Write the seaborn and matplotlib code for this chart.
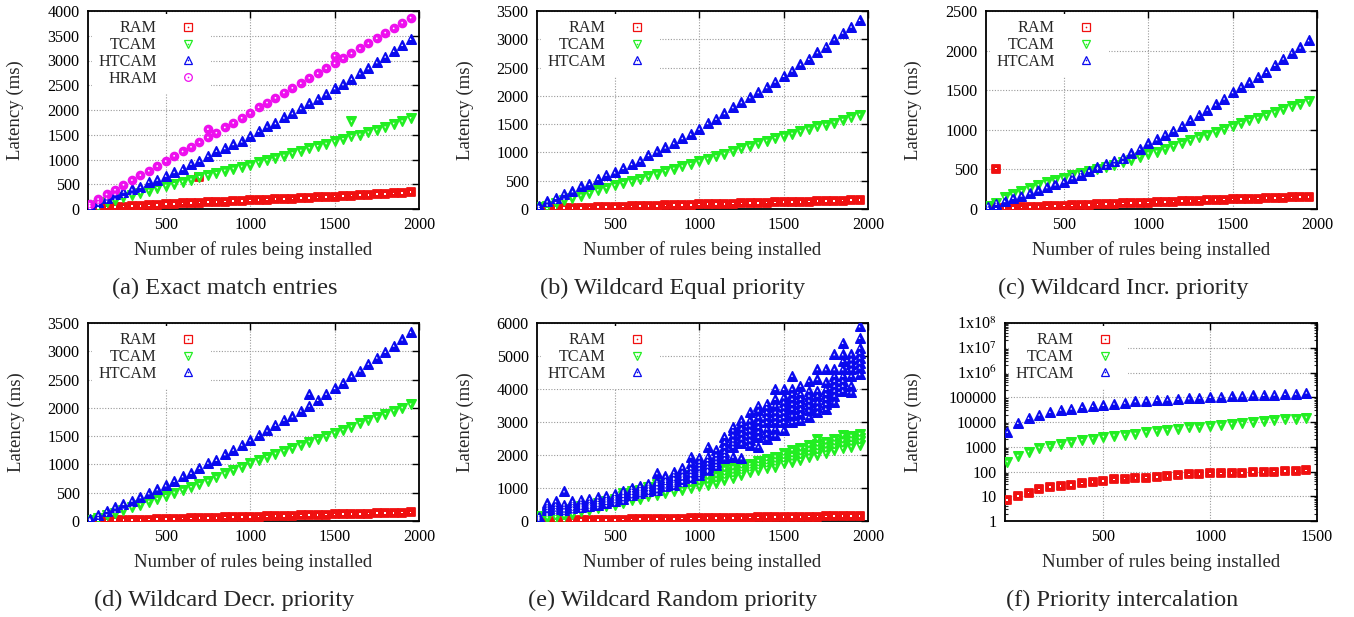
import numpy as np
import matplotlib
matplotlib.use("Agg")
import matplotlib.pyplot as plt
import seaborn as sns
from matplotlib.lines import Line2D
from matplotlib.legend_handler import HandlerTuple
from matplotlib.ticker import FixedLocator, NullLocator, FixedFormatter, LogLocator, NullFormatter

# ---------------- data ----------------
X = [50, 100, 150, 200, 250, 300, 350, 400, 450, 500, 550, 600, 650, 700, 750,
     800, 850, 900, 950, 1000, 1050, 1100, 1150, 1200, 1250, 1300, 1350, 1400,
     1450, 1500, 1550, 1600, 1650, 1700, 1750, 1800, 1850, 1900, 1950]
XF = [50, 100, 150, 200, 250, 300, 350, 400, 450, 500, 550, 600, 650, 700, 750,
      800, 850, 900, 950, 1000, 1050, 1100, 1150, 1200, 1250, 1300, 1350, 1400, 1450]

# (a) Exact match entries
RAM_A = [10, 20, 30, 40, 48, 55, 65, 72, 82, 95, 105, 112, 120, 128, 135, 143, 150, 158, 165, 175,
         182, 190, 198, 205, 212, 220, 228, 235, 243, 252, 260, 270, 280, 288, 297, 306, 315, 325, 340]
TCAM_A = [40, 87, 148, 188, 240, 290, 323, 370, 423, 470, 504, 551, 592, 645, 686, 726, 773, 813, 854, 894,
          941, 988, 1035, 1076, 1123, 1176, 1230, 1271, 1318, 1365, 1412, 1466, 1500, 1546, 1600, 1647, 1721, 1768, 1835]
HTCAM_A = [80, 148, 215, 300, 350, 397, 444, 550, 592, 672, 746, 807, 914, 975, 1075, 1176, 1230, 1311, 1365, 1479,
           1580, 1667, 1734, 1849, 1936, 2037, 2138, 2218, 2319, 2440, 2521, 2629, 2743, 2844, 2965, 3079, 3193, 3314, 3435]
HRAM_A = [108, 200, 296, 390, 490, 585, 685, 773, 867, 968, 1075, 1163, 1257, 1350, 1445, 1540, 1647, 1741, 1842, 1943,
          2057, 2151, 2245, 2353, 2447, 2541, 2649, 2743, 2844, 2944, 3045, 3146, 3247, 3348, 3449, 3563, 3650, 3765, 3866]
RAM_A_OUT_X, RAM_A_OUT_Y = [700], [640]
TCAM_A_OUT_X, TCAM_A_OUT_Y = [1600], [1768]
HRAM_A_OUT_X, HRAM_A_OUT_Y = [750, 1500], [1613, 3099]

# (b) Wildcard Equal priority
RAM_B = [5, 8, 12, 15, 18, 22, 26, 30, 35, 38, 42, 46, 50, 55, 58, 62, 66, 70, 74, 80,
         84, 88, 92, 96, 100, 104, 108, 112, 116, 120, 124, 128, 132, 136, 140, 145, 150, 155, 162]
TCAM_B = [30, 60, 106, 165, 194, 235, 282, 329, 371, 418, 459, 488, 529, 576, 624, 671, 712, 753, 794, 841,
          888, 929, 976, 1029, 1071, 1118, 1159, 1206, 1253, 1294, 1329, 1371, 1418, 1459, 1488, 1529, 1576, 1618, 1665]
HTCAM_B = [50, 135, 194, 270, 312, 400, 441, 530, 606, 647, 724, 794, 853, 953, 1018, 1088, 1165, 1253, 1324, 1418,
           1518, 1594, 1694, 1800, 1888, 1976, 2065, 2153, 2253, 2353, 2447, 2559, 2653, 2771, 2871, 3000, 3118, 3224, 3341]

# (c) Wildcard Incr. priority
RAM_C = [5, 8, 12, 16, 20, 24, 28, 33, 38, 42, 46, 50, 54, 58, 62, 66, 70, 74, 78, 82,
         86, 90, 94, 98, 102, 106, 110, 114, 118, 120, 124, 128, 132, 136, 140, 143, 146, 150, 152]
TCAM_C = [40, 80, 150, 190, 225, 262, 300, 335, 365, 395, 425, 455, 480, 500, 525, 560, 590, 620, 660, 700,
          725, 760, 795, 830, 870, 905, 940, 975, 1010, 1045, 1085, 1120, 1150, 1185, 1220, 1260, 1295, 1325, 1365]
HTCAM_C = [30, 65, 100, 140, 170, 200, 235, 275, 310, 345, 390, 435, 480, 525, 570, 610, 650, 705, 760, 830,
           880, 940, 990, 1050, 1125, 1190, 1255, 1320, 1395, 1475, 1545, 1600, 1665, 1730, 1820, 1900, 1975, 2040, 2130]
RAM_C_OUT_X, RAM_C_OUT_Y = [100], [510]

# (d) Wildcard Decr. priority
RAM_D = [5, 8, 10, 12, 15, 18, 22, 26, 30, 34, 38, 42, 46, 50, 55, 58, 62, 66, 70, 74,
         78, 82, 86, 90, 95, 100, 104, 108, 112, 116, 120, 124, 128, 132, 136, 140, 144, 148, 152]
TCAM_D = [20, 50, 100, 150, 200, 240, 290, 340, 390, 440, 500, 550, 600, 650, 710, 770, 840, 900, 960, 1030,
          1080, 1130, 1190, 1240, 1290, 1350, 1400, 1450, 1500, 1560, 1610, 1670, 1730, 1780, 1840, 1890, 1950, 2000, 2060]
HTCAM_D = [40, 110, 180, 240, 300, 360, 420, 490, 560, 630, 710, 790, 850, 940, 1030, 1080, 1180, 1260, 1350, 1430,
           1520, 1600, 1700, 1790, 1850, 1950, 2040, 2140, 2250, 2350, 2440, 2560, 2660, 2780, 2890, 2990, 3100, 3210, 3340]
HTCAM_D_OUT_X, HTCAM_D_OUT_Y = [1350], [2250]

# (e) Wildcard Random priority (several runs per x)
RAM_E = [-40, -30, 12, 16, 20, 24, 28, 32, 36, 40, 44, 48, 52, 56, 60, 64, 68, 72, 76, 80,
         84, 88, 92, 96, 100, 104, 108, 112, 116, 120, 124, 128, 132, 136, 140, 144, 148, 152, 156]
TCAM_E = [
    [50, 100, 150], [100, 160, 200], [120, 190, 250], [150, 220, 300], [200, 280, 350],
    [300, 370, 440], [340, 400, 460], [400, 470, 540], [450, 530, 620], [500, 590, 680],
    [560, 650, 750, 850], [650, 740, 830, 900], [680, 770, 860, 950], [750, 840, 940, 1040],
    [800, 900, 1000, 1120], [850, 950, 1060, 1180], [900, 1010, 1120, 1250], [950, 1060, 1180, 1320],
    [1000, 1120, 1240, 1380], [1050, 1170, 1290, 1420], [1100, 1220, 1340, 1480], [1150, 1260, 1380, 1600],
    [1250, 1350, 1450, 1580], [1300, 1400, 1500, 1620], [1400, 1480, 1560, 1660], [1480, 1560, 1640, 1720],
    [1550, 1630, 1720, 1820], [1600, 1690, 1780, 1880], [1650, 1740, 1840, 1950], [1750, 1850, 1950, 2050],
    [1800, 1900, 2000, 2150], [1850, 1960, 2070, 2200], [1950, 2060, 2170, 2300], [2000, 2110, 2220, 2330, 2480],
    [2050, 2160, 2280, 2400], [2150, 2260, 2370, 2480], [2200, 2320, 2440, 2600], [2250, 2360, 2470, 2580],
    [2300, 2410, 2520, 2640]]
HTCAM_E = [
    [40, 80, 130], [330, 400, 470, 540], [350, 420, 500, 600], [340, 420, 500, 900], [400, 470, 540, 600],
    [430, 500, 570, 650], [460, 530, 600, 680], [500, 570, 640, 720], [550, 620, 690, 760], [600, 680, 750, 820],
    [680, 760, 840, 920], [780, 860, 940, 1010], [840, 920, 990, 1060], [900, 980, 1050, 1130],
    [950, 1040, 1120, 1200, 1450], [1050, 1150, 1250, 1350], [1100, 1200, 1300, 1400, 1480],
    [1200, 1300, 1400, 1500, 1620], [1300, 1400, 1500, 1600, 1750, 1950], [1400, 1500, 1600, 1700, 1800, 1920],
    [1550, 1650, 1750, 1850, 1950, 2250], [1700, 1800, 1900, 2000, 2150], [1900, 2000, 2100, 2250, 2400, 2550],
    [1950, 2250, 2350, 2450, 2600, 2750, 2850], [1900, 2350, 2500, 2650, 2800, 2950, 3050],
    [2300, 2450, 2600, 2750, 2900, 3050, 3300], [2250, 2550, 2700, 2850, 3000, 3150, 3350, 3500],
    [2500, 2650, 2800, 3000, 3150, 3300, 3450, 3550], [2600, 2800, 3000, 3150, 3300, 3500, 3700, 4000],
    [2750, 3000, 3150, 3300, 3450, 3600, 3750, 4000], [3000, 3200, 3400, 3550, 3700, 3850, 4000, 4400],
    [3050, 3250, 3400, 3550, 3700, 3850, 4100], [3150, 3350, 3500, 3650, 3800, 3950, 4250],
    [3300, 3450, 3600, 3800, 3950, 4300, 4600], [3400, 3550, 3700, 3850, 4000, 4200, 4600],
    [3600, 3800, 3950, 4100, 4250, 4400, 4600, 5050], [3950, 4100, 4250, 4400, 4600, 4850, 5050, 5400],
    [3900, 4100, 4400, 4600, 4750, 4900, 5050], [4450, 4650, 4800, 4950, 5100, 5250, 5550, 5900]]

# (f) Priority intercalation (log scale)
RAM_F = [7, 10, 14, 19, 23, 26, 29, 33, 37, 41, 48, 52, 56, 57, 61, 67, 69, 76, 78, 84,
         84, 89, 89, 94, 94, 100, 107, 107, 110]
TCAM_F = [247, 430, 630, 910, 1050, 1270, 1580, 1850, 2150, 2510, 2840, 3030, 3330, 3870, 4380,
          4800, 5450, 6000, 6350, 6950, 7640, 8380, 8900, 9800, 10700, 11800, 12900, 13800, 15100]
HTCAM_F = [4000, 9200, 14700, 20000, 25600, 31600, 35000, 40600, 44700, 49000, 55400, 60700, 69000, 73600, 78000,
           81000, 85700, 91000, 97000, 103000, 106000, 110000, 117000, 121000, 124000, 128000, 136000, 140000, 155000]

CAPTIONS = ["(a) Exact match entries", "(b) Wildcard Equal priority", "(c) Wildcard Incr. priority",
            "(d) Wildcard Decr. priority", "(e) Wildcard Random priority", "(f) Priority intercalation"]
LOG_LABELS = ["1", "10", "100", "1000", "10000", "100000",
              r"1x10$^{6}$", r"1x10$^{7}$", r"1x10$^{8}$"]

# ---------------- style ----------------
sns.set_style("white")
plt.rcParams["font.family"] = ["Liberation Serif", "DejaVu Serif"]
plt.rcParams["mathtext.fontset"] = "stix"

COL = {"RAM": "#f01010", "TCAM": "#22ee22", "HTCAM": "#0a0aee", "HRAM": "#ee10ee"}
MRK = {"RAM": "s", "TCAM": "v", "HTCAM": "^", "HRAM": "o"}
SIZE = {"RAM": 28, "TCAM": 44, "HTCAM": 44, "HRAM": 32}

W, H = 1354, 617
fig = plt.figure(figsize=(W / 100, H / 100), dpi=100)


def rect(l, r, t, b):
    return [l / W, 1 - b / H, (r - l) / W, (b - t) / H]


AX_RECTS = [rect(88, 419, 11, 209), rect(537, 868, 11, 209), rect(986, 1317, 11, 209),
            rect(88, 419, 323, 521), rect(537, 868, 323, 521), rect(1005, 1317, 323, 521)]
CAP_POS = [(225, 288), (673, 288), (1123, 288), (224, 600), (673, 600), (1122, 600)]
FS = 11.6
LFS = 13.5
CFS = 17.5


def draw(ax, xs, ys, name):
    c, m, s = COL[name], MRK[name], SIZE[name]
    sns.scatterplot(x=xs, y=ys, ax=ax, marker=m, s=s, color=c,
                    edgecolor=c, linewidth=1.3, legend=False, zorder=3)
    sns.scatterplot(x=xs, y=ys, ax=ax, marker=m, s=s * 0.05, color="white",
                    edgecolor="none", linewidth=0, legend=False, zorder=4)


def long_form(xs, groups):
    xx, yy = [], []
    for x, g in zip(xs, groups):
        xx += [x] * len(g)
        yy += list(g)
    return xx, yy


def setup(ax, ymax, ystep, xmax, names, ylab_px, logy=False):
    ax.set_xlim(40, xmax)
    ax.xaxis.set_major_locator(FixedLocator(list(range(500, xmax + 1, 500))))
    if logy:
        ax.set_yscale("log")
        ax.set_ylim(1, 1e8)
        ticks = [10 ** k for k in range(9)]
        ax.yaxis.set_major_locator(FixedLocator(ticks))
        ax.yaxis.set_major_formatter(FixedFormatter(LOG_LABELS))
        ax.yaxis.set_minor_locator(LogLocator(base=10, subs=(2, 3, 4, 5, 6, 7, 8, 9), numticks=20))
        ax.yaxis.set_minor_formatter(NullFormatter())
        ax.tick_params(axis="y", which="minor", direction="in", length=2.5, width=0.8,
                       left=True, right=True)
    else:
        ax.set_ylim(0, ymax)
        ax.yaxis.set_major_locator(FixedLocator(list(range(0, ymax + 1, ystep))))
    ax.set_axisbelow(True)
    ax.grid(True, which="major", color="#9a9a9a", linestyle=(0, (1, 1.5)), linewidth=0.8)
    for s in ax.spines.values():
        s.set_visible(True)
        s.set_color("black")
        s.set_linewidth(1.3)
    ax.tick_params(which="major", direction="in", length=5, width=1, top=True, right=True,
                   labelsize=FS, colors="black", pad=6)
    ax.set_xlabel("Number of rules being installed", fontsize=LFS)
    ax.set_ylabel("Latency (ms)", fontsize=LFS)
    bb = ax.get_position()
    hpx = bb.height * H
    wpx = bb.width * W
    ax.xaxis.set_label_coords(0.5, -32 / hpx)
    ax.yaxis.set_label_coords(ylab_px / wpx, 0.5)
    handles = [(Line2D([], [], ls="none", marker=MRK[n], ms=5.5, mfc="none", mec=COL[n], mew=0.9),
                Line2D([], [], ls="none", marker="o", ms=1.2, mfc=COL[n], mec=COL[n], mew=0))
               for n in names]
    leg = ax.legend(handles, names, loc="upper left",
                    bbox_to_anchor=(4 / wpx, 1 - 3 / hpx), borderaxespad=0,
                    markerfirst=False, frameon=True, fancybox=False, framealpha=1,
                    edgecolor="none", facecolor="white", fontsize=FS, handlelength=2.0,
                    handletextpad=0.95, labelspacing=0.05, borderpad=0.4,
                    handler_map={tuple: HandlerTuple(ndivide=1)})
    leg.set_zorder(2.5)
    for col in leg._legend_handle_box.get_children():
        col.align = "right"


axes = [fig.add_axes(r) for r in AX_RECTS]

# (a)
ax = axes[0]
draw(ax, X, RAM_A, "RAM"); draw(ax, RAM_A_OUT_X, RAM_A_OUT_Y, "RAM")
draw(ax, X, TCAM_A, "TCAM"); draw(ax, TCAM_A_OUT_X, TCAM_A_OUT_Y, "TCAM")
draw(ax, X, HTCAM_A, "HTCAM")
draw(ax, X, HRAM_A, "HRAM"); draw(ax, HRAM_A_OUT_X, HRAM_A_OUT_Y, "HRAM")
setup(ax, 4000, 500, 2000, ["RAM", "TCAM", "HTCAM", "HRAM"], -64)

# (b)
ax = axes[1]
draw(ax, X, RAM_B, "RAM"); draw(ax, X, TCAM_B, "TCAM"); draw(ax, X, HTCAM_B, "HTCAM")
setup(ax, 3500, 500, 2000, ["RAM", "TCAM", "HTCAM"], -63)

# (c)
ax = axes[2]
draw(ax, X, RAM_C, "RAM"); draw(ax, RAM_C_OUT_X, RAM_C_OUT_Y, "RAM")
draw(ax, X, TCAM_C, "TCAM"); draw(ax, X, HTCAM_C, "HTCAM")
setup(ax, 2500, 500, 2000, ["RAM", "TCAM", "HTCAM"], -64)

# (d)
ax = axes[3]
draw(ax, X, RAM_D, "RAM"); draw(ax, X, TCAM_D, "TCAM")
draw(ax, X, HTCAM_D, "HTCAM"); draw(ax, HTCAM_D_OUT_X, HTCAM_D_OUT_Y, "HTCAM")
setup(ax, 3500, 500, 2000, ["RAM", "TCAM", "HTCAM"], -63)

# (e)
ax = axes[4]
draw(ax, X, RAM_E, "RAM")
tx, ty = long_form(X, TCAM_E)
draw(ax, tx, ty, "TCAM")
hx, hy = long_form(X, HTCAM_E)
draw(ax, hx, hy, "HTCAM")
setup(ax, 6000, 1000, 2000, ["RAM", "TCAM", "HTCAM"], -63)

# (f)
ax = axes[5]
draw(ax, XF, RAM_F, "RAM"); draw(ax, XF, TCAM_F, "TCAM"); draw(ax, XF, HTCAM_F, "HTCAM")
setup(ax, None, None, 1500, ["RAM", "TCAM", "HTCAM"], -83, logy=True)

for (cx, cy), cap in zip(CAP_POS, CAPTIONS):
    fig.text(cx / W, 1 - cy / H, cap, ha="center", va="center", fontsize=CFS)

fig.savefig("out.png", dpi=100)
